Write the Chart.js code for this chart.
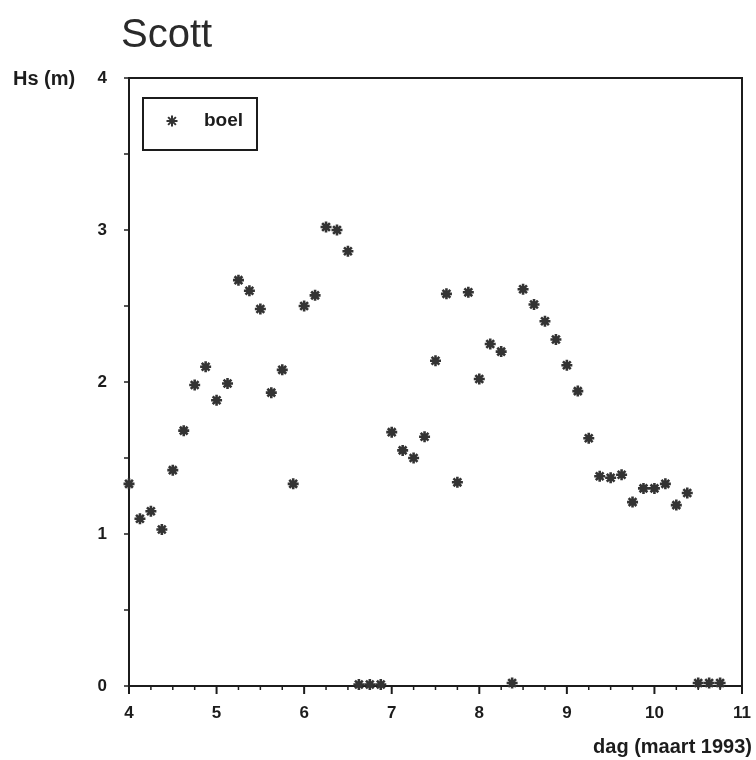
<!DOCTYPE html>
<html>
<head>
<meta charset="utf-8">
<title>Scott</title>
<script src="https://cdn.jsdelivr.net/npm/chart.js@4/dist/chart.umd.min.js"></script>
<style>
    html, body { margin: 0; padding: 0; background: #fff; }
    #wrap { width: 756px; height: 760px; position: relative; }
</style>
</head>
<body>
<div id="wrap"><canvas id="chart"></canvas></div>
<script>
// Hs per 3 uur, boei Scott, 4 - 11 maart 1993
const days = [
    4.0, 4.125, 4.25, 4.375, 4.5, 4.625, 4.75, 4.875,
    5.0, 5.125, 5.25, 5.375, 5.5, 5.625, 5.75, 5.875,
    6.0, 6.125, 6.25, 6.375, 6.5, 6.625, 6.75, 6.875,
    7.0, 7.125, 7.25, 7.375, 7.5, 7.625, 7.75, 7.875,
    8.0, 8.125, 8.25, 8.375, 8.5, 8.625, 8.75, 8.875,
    9.0, 9.125, 9.25, 9.375, 9.5, 9.625, 9.75, 9.875,
    10.0, 10.125, 10.25, 10.375, 10.5, 10.625, 10.75
];
const hsBoei = [
    1.33, 1.10, 1.15, 1.03, 1.42, 1.68, 1.98, 2.10,
    1.88, 1.99, 2.67, 2.60, 2.48, 1.93, 2.08, 1.33,
    2.50, 2.57, 3.02, 3.00, 2.86, 0.01, 0.01, 0.01,
    1.67, 1.55, 1.50, 1.64, 2.14, 2.58, 1.34, 2.59,
    2.02, 2.25, 2.20, 0.02, 2.61, 2.51, 2.40, 2.28,
    2.11, 1.94, 1.63, 1.38, 1.37, 1.39, 1.21, 1.30,
    1.30, 1.33, 1.19, 1.27, 0.02, 0.02, 0.02
];
const xTicks = [4, 5, 6, 7, 8, 9, 10, 11];
const yTicks = [0, 1, 2, 3, 4];

const ink = '#1c1c1c';
const markerColor = '#333';
const boldFont = (size) => ({ family: "'Liberation Sans', Arial, sans-serif", size: size, weight: 'bold' });

// frame, minor ticks, texts and the boxed legend
const decorations = {
    id: 'decorations',
    beforeDatasetsDraw(chart) {
        const { ctx, chartArea: a, scales } = chart;
        ctx.save();
        ctx.strokeStyle = ink;
        ctx.lineWidth = 2;
        ctx.beginPath();
        ctx.moveTo(a.left, a.top);
        ctx.lineTo(a.right, a.top);
        ctx.lineTo(a.right, a.bottom);
        ctx.stroke();

        // x ticks every 6 hours, longer on whole days
        for (let i = 0; i <= 28; i++) {
            const v = 4 + i * 0.25;
            const px = scales.x.getPixelForValue(v);
            const len = (i % 4 === 0) ? 8 : 4;
            ctx.lineWidth = (i % 4 === 0) ? 2 : 1.5;
            ctx.beginPath();
            ctx.moveTo(px, a.bottom);
            ctx.lineTo(px, a.bottom + len);
            ctx.stroke();
        }
        // y ticks every 0.5 m
        for (let i = 0; i <= 8; i++) {
            const py = scales.y.getPixelForValue(i * 0.5);
            ctx.lineWidth = 1.5;
            ctx.beginPath();
            ctx.moveTo(a.left, py);
            ctx.lineTo(a.left - 5, py);
            ctx.stroke();
        }
        ctx.restore();
    },
    afterDraw(chart) {
        const { ctx, chartArea: a } = chart;
        ctx.save();
        ctx.fillStyle = '#2a2a2a';
        ctx.textBaseline = 'alphabetic';
        ctx.textAlign = 'left';
        ctx.font = "40px 'Liberation Sans', Arial, sans-serif";
        ctx.fillText('Scott', 121, 47);

        ctx.fillStyle = ink;
        ctx.font = "bold 20px 'Liberation Sans', Arial, sans-serif";
        ctx.fillText('Hs (m)', 13, 85);
        ctx.textAlign = 'right';
        ctx.fillText('dag (maart 1993)', 752, 753);

        // legend
        const bx = a.left + 14, by = a.top + 20, bw = 114, bh = 52;
        ctx.strokeStyle = ink;
        ctx.lineWidth = 2;
        ctx.strokeRect(bx, by, bw, bh);
        const ds = chart.data.datasets[0];
        ctx.strokeStyle = ds.borderColor;
        ctx.fillStyle = ds.borderColor;
        Chart.helpers.drawPoint(ctx, {
            pointStyle: ds.pointStyle,
            radius: ds.pointRadius,
            borderWidth: ds.borderWidth,
            rotation: 0
        }, bx + 29, by + 23);
        ctx.fillStyle = ink;
        ctx.textAlign = 'left';
        ctx.textBaseline = 'middle';
        ctx.font = "bold 19px 'Liberation Sans', Arial, sans-serif";
        ctx.fillText(ds.label, bx + 61, by + 23);
        ctx.restore();
    }
};

const ctx = document.getElementById('chart').getContext('2d');
const myChart = new Chart(ctx, {
    type: 'scatter',
    data: {
        datasets: [{
            label: 'boel',
            data: days.map((d, i) => ({ x: d, y: hsBoei[i] })),
            pointStyle: 'star',
            pointRadius: 5.5,
            pointHoverRadius: 5.5,
            borderWidth: 2.6,
            borderColor: markerColor,
            backgroundColor: markerColor,
            clip: false
        }]
    },
    options: {
        responsive: true,
        maintainAspectRatio: false,
        animation: false,
        events: [],
        layout: {
            padding: { top: 78, right: 14, left: 0, bottom: 0 }
        },
        plugins: {
            legend: { display: false },
            title: { display: false },
            tooltip: { enabled: false }
        },
        scales: {
            x: {
                type: 'linear',
                min: 4,
                max: 11,
                afterBuildTicks: (scale) => { scale.ticks = xTicks.map(v => ({ value: v })); },
                afterFit: (scale) => { scale.height = 74; },
                // ticks themselves are drawn by the plugin, tickLength only spaces the labels
                grid: { display: false, drawTicks: true, tickLength: 17 },
                border: { display: true, color: ink, width: 2 },
                ticks: {
                    color: ink,
                    font: boldFont(17),
                    padding: 0,
                    maxRotation: 0,
                    autoSkip: false
                }
            },
            y: {
                type: 'linear',
                min: 0,
                max: 4,
                afterBuildTicks: (scale) => { scale.ticks = yTicks.map(v => ({ value: v })); },
                afterFit: (scale) => { scale.width = 129; },
                grid: { display: false, drawTicks: true, tickLength: 22 },
                border: { display: true, color: ink, width: 2 },
                ticks: {
                    color: ink,
                    font: boldFont(17),
                    padding: 0
                }
            }
        }
    },
    plugins: [decorations]
});
</script>
</body>
</html>
